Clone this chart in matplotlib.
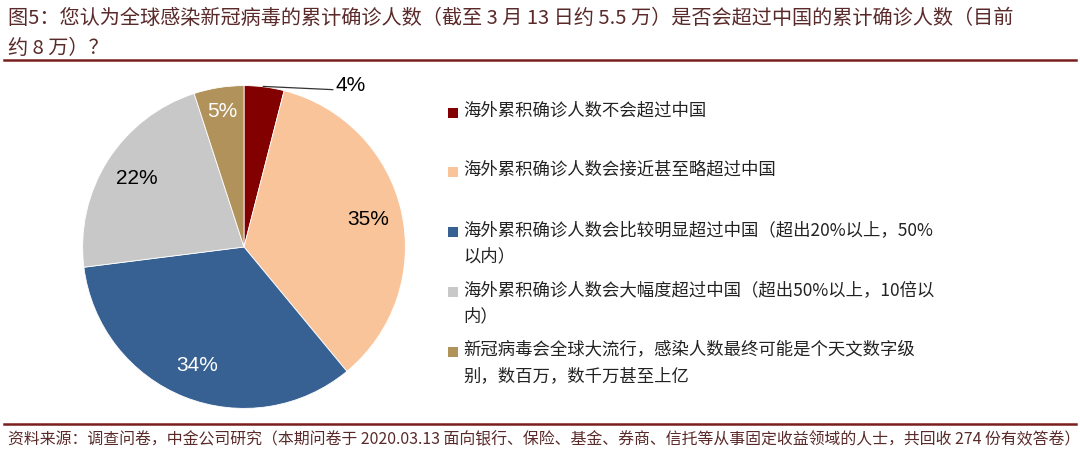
import matplotlib
matplotlib.use("Agg")
import matplotlib.pyplot as plt
from matplotlib.patches import Rectangle
from matplotlib.lines import Line2D
import numpy as np

plt.rcParams['font.family'] = ['Noto Sans CJK SC', 'DejaVu Sans']

# survey answers, clockwise from 12 o'clock
answers = [
    "海外累积确诊人数不会超过中国",
    "海外累积确诊人数会接近甚至略超过中国",
    "海外累积确诊人数会比较明显超过中国（超出20%以上，50%\n以内）",
    "海外累积确诊人数会大幅度超过中国（超出50%以上，10倍以\n内）",
    "新冠病毒会全球大流行，感染人数最终可能是个天文数字级\n别，数百万，数千万甚至上亿",
]
shares = [4, 35, 34, 22, 5]
colors = ["#820000", "#FAC49B", "#376093", "#C8C8C8", "#B1925A"]
label_colors = ["black", "black", "white", "black", "white"]

title = ("图5：您认为全球感染新冠病毒的累计确诊人数（截至 3 月 13 日约 5.5 万）是否会超过中国的累计确诊人数（目前\n"
         "约 8 万）？")
source = ("资料来源：调查问卷，中金公司研究（本期问卷于 2020.03.13 面向银行、保险、基金、券商、"
          "信托等从事固定收益领域的人士，共回收 274 份有效答卷）")

W, H = 1080, 457
fig = plt.figure(figsize=(W / 100, H / 100), dpi=100)
dark_red = "#7A1F1F"
text_red = "#5A2A2A"

# title and rules
fig.text(8 / W, 1 - 8 / H, title, ha="left", va="top", fontsize=14.5,
         color=text_red, linespacing=1.55)
fig.add_artist(Line2D([4 / W, 1076 / W], [1 - 60 / H] * 2, color=dark_red, lw=1.8))
fig.add_artist(Line2D([4 / W, 1076 / W], [1 - 424 / H] * 2, color=dark_red, lw=1.8))
fig.text(8 / W, 1 - 440 / H, source, ha="left", va="center", fontsize=11.45,
         color=text_red)

# pie
cx, cy, r = 244, 247, 163
ax = fig.add_axes([(cx - r) / W, (H - cy - r) / H, 2 * r / W, 2 * r / H])
wedges, _ = ax.pie(shares, colors=colors, startangle=90, counterclock=False,
                   radius=1, wedgeprops=dict(edgecolor="white", linewidth=0.6))
ax.set_xlim(-1.01, 1.01)
ax.set_ylim(-1.01, 1.01)
ax.set_aspect("equal")
ax.axis("off")

label_font = dict(family=["Liberation Sans", "DejaVu Sans"], fontsize=15)
for i, (w, s) in enumerate(zip(wedges, shares)):
    mid = np.deg2rad((w.theta1 + w.theta2) / 2)
    if i == 0:
        # small slice: leader line to outside label
        ax.plot([0.12, 0.55], [0.995, 0.975], color="#333333", lw=0.9, clip_on=False)
        ax.text(0.57, 1.0, f"{s}%", ha="left", va="center", color="black", **label_font)
        continue
    d = 0.85 if s < 10 else 0.79
    ax.text(d * np.cos(mid), d * np.sin(mid), f"{s}%", ha="center", va="center",
            color=label_colors[i], **label_font)

# legend drawn by hand to keep the report's spacing
legend_y = [113, 172, 232, 292, 352]
for txt, col, y in zip(answers, colors, legend_y):
    fig.add_artist(Rectangle((448 / W, 1 - (y + 5) / H), 10 / W, 10 / H,
                             facecolor=col, edgecolor="none"))
    fig.text(463 / W, 1 - (y - 11) / H, txt, ha="left", va="top", fontsize=12.5,
             color="#222222", linespacing=1.6)

fig.savefig("out.png", dpi=100)
